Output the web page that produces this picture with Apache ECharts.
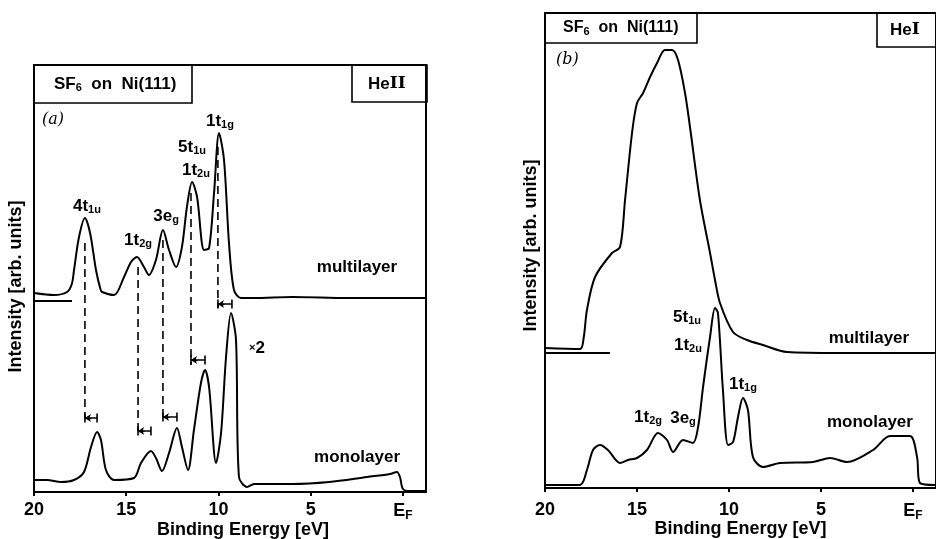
<!DOCTYPE html>
<html>
<head>
<meta charset="utf-8">
<script src="https://cdn.jsdelivr.net/npm/echarts@6/dist/echarts.min.js"></script>
<style>
  html, body { margin: 0; background: #fff; }
  #chart { width: 936px; height: 539px; }
</style>
</head>
<body>
<div id="chart"></div>
<script>
// binding energy [eV], intensity (arb. units)
var multiA = [[20, 199], [18.92, 197], [18.21, 200], [17.95, 208], [17.83, 222], [17.56, 255], [17.24, 274], [16.96, 259],
  [16.64, 222], [16.4, 203], [16.31, 200], [15.66, 197], [15.12, 215], [14.74, 230], [14.42, 235], [14.04, 225],
  [13.77, 217], [13.39, 232], [13.01, 262], [12.68, 242], [12.3, 225], [11.98, 245], [11.71, 285], [11.43, 310],
  [11.16, 295], [10.78, 242], [10.51, 244], [10.24, 299], [9.97, 359], [9.7, 332], [9.43, 249], [9.16, 202],
  [8.78, 194], [8.07, 194], [6, 195], [3, 194], [0, 194], [-1.25, 194]];
var monoA = [[20, 12], [19.3, 12], [18.54, 10], [17.83, 12], [17.29, 20], [16.91, 45], [16.58, 60], [16.37, 52],
  [16.1, 22], [15.66, 12], [14.58, 14], [14.2, 29], [13.66, 41], [13.39, 34], [13.06, 21], [12.68, 39], [12.25, 64],
  [11.98, 45], [11.65, 22], [11.33, 62], [10.95, 109], [10.73, 122], [10.51, 105], [10.13, 29], [9.86, 59],
  [9.59, 135], [9.32, 179], [9.05, 152], [8.89, 15], [8.45, 5], [8.07, 8], [6, 8], [4, 10], [1.95, 15],
  [0.7, 18], [0.33, 20], [0.16, 15], [0, 3], [-0.38, 1], [-1.25, 1]];
var baseA = [[20, 191], [17.94, 191]];
// multilayer peak -> monolayer peak
var dashA = [[17.24, 249, 74], [14.36, 225, 59], [13.01, 252, 70], [11.49, 299, 127], [10.03, 345, 184]];
var shiftA = [[17.24, 16.58, 74], [14.36, 13.66, 61], [13.01, 12.25, 75], [11.49, 10.73, 132], [10.03, 9.27, 188]];
var labelsA = [[17.13, 286, '4t{s|1u}'], [14.36, 252, '1t{s|2g}'], [12.84, 276, '3e{s|g}'], [11.43, 345, '5t{s|1u}'],
  [11.22, 322, '1t{s|2u}'], [9.92, 371, '1t{s|1g}'], [2.49, 225, 'multilayer'], [2.49, 35, 'monolayer'], [7.91, 144, '{x|×}2']];

var multiB = [[20, 140], [18.1, 139], [17.9, 150], [17.72, 178], [17.28, 211], [16.36, 235], [15.92, 241], [15.65, 288],
  [15.27, 355], [15.0, 385], [14.67, 395], [14.29, 411], [13.91, 425], [13.48, 438], [13.1, 438], [12.77, 428],
  [12.39, 395], [12.12, 361], [11.58, 288], [11.03, 235], [10.76, 208], [10.49, 185], [9.78, 156], [9.02, 148],
  [8.15, 143], [6.85, 136], [4, 135], [1, 135], [-1.25, 135]];
var monoB = [[20, 3], [18.1, 3], [17.72, 18], [17.39, 38], [17.01, 43], [16.58, 38], [15.92, 25], [15.49, 28],
  [15.0, 30], [14.46, 38], [13.86, 55], [13.37, 48], [13.04, 36], [12.5, 48], [11.96, 45], [11.68, 61],
  [11.41, 101], [11.03, 151], [10.76, 180], [10.6, 175], [10.33, 98], [10.05, 43], [9.78, 46], [9.51, 71],
  [9.24, 90], [8.97, 78], [8.7, 31], [8.15, 21], [7.23, 25], [5.43, 26], [4.51, 30], [3.59, 26], [2.17, 38],
  [1.25, 52], [0.16, 52], [-0.22, 31], [-0.38, 5], [-1.25, 3]];
var baseB = [[20, 135], [16.47, 135]];
var labelsB = [[12.28, 171, '5t{s|1u}'], [12.23, 143, '1t{s|2u}'], [9.24, 104, '1t{s|1g}'], [14.4, 71, '1t{s|2g}'],
  [12.5, 70, '3e{s|g}'], [2.39, 150, 'multilayer'], [2.34, 66, 'monolayer']];

var tickValues = [0, 5, 10, 15, 20];

var FONT = 'Liberation Sans';
var rich = {
  s: { color: '#000', fontFamily: FONT, fontWeight: 'bold', fontSize: 11, padding: [8, 0, 0, 0] },
  x: { color: '#000', fontFamily: FONT, fontWeight: 'bold', fontSize: 11 }
};
var chart = echarts.init(document.getElementById('chart'));

function xAxisOf(grid) {
  return {
    gridIndex: grid, type: 'value', min: -1.25, max: 20, inverse: true,
    name: 'Binding Energy [eV]', nameLocation: 'middle', nameGap: grid === 0 ? 29 : 32, nameMoveOverlap: false,
    nameTextStyle: { fontFamily: FONT, fontWeight: 'bold', fontSize: 18, color: '#000',
      padding: grid === 0 ? [0, 0, 0, 26] : 0 },
    axisLine: { lineStyle: { color: '#000', width: 2 } },
    axisTick: { customValues: tickValues, length: 4, lineStyle: { color: '#000', width: 2 } },
    axisLabel: {
      customValues: tickValues, margin: grid === 0 ? 9 : 13, color: '#000', fontFamily: FONT, fontWeight: 'bold', fontSize: 18,
      formatter: function (v) { return v === 0 ? 'E{f|F}' : String(v); },
      rich: { f: { color: '#000', fontFamily: FONT, fontWeight: 'bold', fontSize: 12, padding: [9, 0, 0, 0] } }
    },
    splitLine: { show: false }
  };
}
function yAxisOf(grid, max) {
  return {
    gridIndex: grid, type: 'value', min: 0, max: max,
    name: 'Intensity [arb. units]', nameLocation: 'middle', nameGap: grid === 0 ? 9 : 5, nameMoveOverlap: false,
    nameTextStyle: { fontFamily: FONT, fontWeight: 'bold', fontSize: 18, color: '#000',
      padding: grid === 0 ? [0, 16, 0, 0] : [0, 0, 0, 10] },
    axisLine: { show: false }, axisTick: { show: false }, axisLabel: { show: false }, splitLine: { show: false }
  };
}
function curve(grid, data) {
  return {
    type: 'line', xAxisIndex: grid, yAxisIndex: grid, data: data, smooth: 0.3, symbol: 'none',
    lineStyle: { color: '#000', width: 2 }, silent: true
  };
}
function labels(grid, data) {
  return {
    type: 'scatter', xAxisIndex: grid, yAxisIndex: grid, data: data, symbolSize: 0,
    itemStyle: { color: '#000', opacity: 1 }, silent: true,
    label: {
      show: true, position: 'inside', color: '#000', opacity: 1, fontFamily: FONT, fontWeight: 'bold', fontSize: 17,
      formatter: function (p) { return p.data[2]; }, rich: rich
    }
  };
}

var series = [
  curve(0, multiA), curve(0, monoA), curve(0, baseA),
  curve(1, multiB), curve(1, monoB), curve(1, baseB),
  labels(0, labelsA), labels(1, labelsB)
];
dashA.forEach(function (d) {
  series.push({
    type: 'line', xAxisIndex: 0, yAxisIndex: 0, data: [[d[0], d[1]], [d[0], d[2]]], symbol: 'none', silent: true,
    lineStyle: { color: '#000', width: 1.6, type: [8, 5] }
  });
});
shiftA.forEach(function (d) {
  series.push({
    type: 'line', xAxisIndex: 0, yAxisIndex: 0, data: [[d[0], d[2]], [d[1], d[2]]], silent: true,
    symbol: 'rect', symbolSize: [1.6, 9], itemStyle: { color: '#000' },
    lineStyle: { color: '#000', width: 1.4 },
    markLine: {
      silent: true, symbol: ['arrow', 'none'], symbolSize: 6, label: { show: false },
      lineStyle: { color: '#000', width: 1.4, type: 'solid' },
      data: [[{ coord: [d[0], d[2]] }, { coord: [d[0] - 0.35, d[2]] }]]
    }
  });
});

function boxTitle(text, pos, padding, size) {
  return Object.assign({
    text: text, borderColor: '#000', borderWidth: 1.6, padding: padding, itemGap: 0,
    textStyle: {
      fontFamily: FONT, fontWeight: 'bold', fontSize: size, color: '#000', lineHeight: 20,
      rich: {
        s: { color: '#000', fontFamily: FONT, fontWeight: 'bold', fontSize: 11, padding: [8, 0, 0, 0] },
        r: { color: '#000', fontFamily: 'DejaVu Serif', fontWeight: 'bold', fontSize: size }
      }
    }
  }, pos);
}

chart.setOption({
  animation: false,
  backgroundColor: '#fff',
  title: [
    boxTitle('SF{s|6}  on  Ni(111)', { left: 34, top: 65 }, [9, 16, 9, 20], 17),
    boxTitle('He{r|II}', { left: 352, top: 65 }, [9, 22, 8, 16], 17),
    boxTitle('SF{s|6}  on  Ni(111)', { left: 545, top: 13 }, [5, 19, 5, 18], 16),
    boxTitle('He{r|I}', { left: 877, top: 13 }, [7, 40, 7, 13], 17),
    { text: '(a)', left: 42, top: 112, textStyle: { fontFamily: 'DejaVu Serif', fontStyle: 'italic', fontWeight: 'normal', fontSize: 16, color: '#000' }, padding: 0 },
    { text: '(b)', left: 556, top: 52, textStyle: { fontFamily: 'DejaVu Serif', fontStyle: 'italic', fontWeight: 'normal', fontSize: 16, color: '#000' }, padding: 0 }
  ],
  grid: [
    { left: 34, top: 65, width: 392, height: 427, show: true, borderColor: '#000', borderWidth: 2,
      backgroundColor: 'transparent', containLabel: false, outerBoundsMode: 'none' },
    { left: 545, top: 13, width: 391, height: 475, show: true, borderColor: '#000', borderWidth: 2,
      backgroundColor: 'transparent', containLabel: false, outerBoundsMode: 'none' }
  ],
  xAxis: [xAxisOf(0), xAxisOf(1)],
  yAxis: [yAxisOf(0, 427), yAxisOf(1, 475)],
  series: series
});
</script>
</body>
</html>
